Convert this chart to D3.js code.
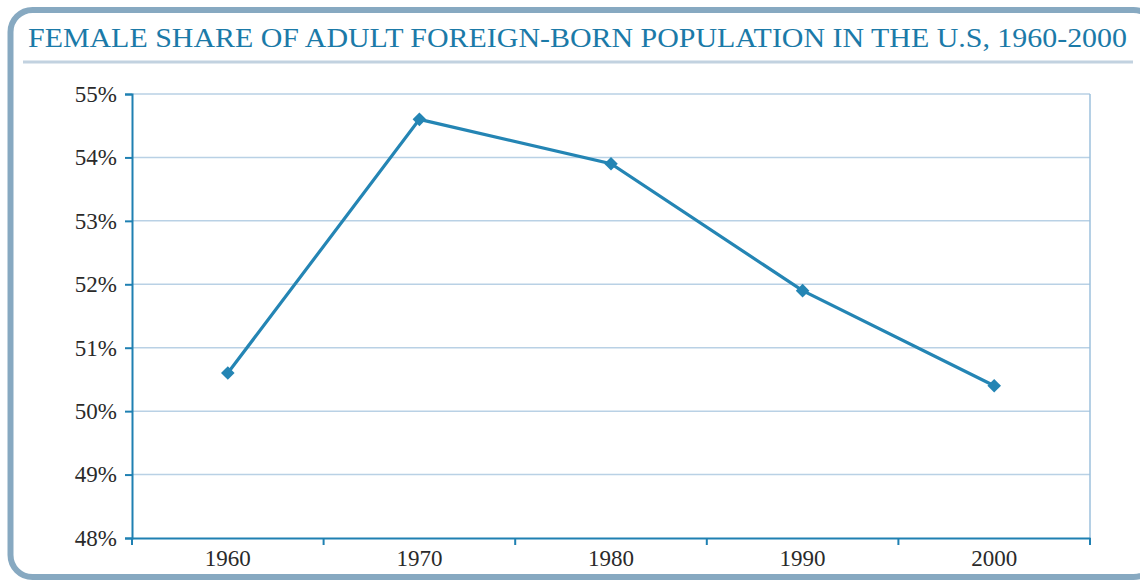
<!DOCTYPE html>
<html><head><meta charset="utf-8">
<script src="https://cdn.jsdelivr.net/npm/d3@7"></script>
<style>html,body{margin:0;padding:0;background:#fff;overflow:hidden}svg{display:block}</style>
</head><body>
<svg id="chart" width="1140" height="581"></svg>
<script>
const titleText = "FEMALE SHARE OF ADULT FOREIGN-BORN POPULATION IN THE U.S, 1960-2000";
const years = ["1960", "1970", "1980", "1990", "2000"];
const femaleShare = [0.506, 0.546, 0.539, 0.519, 0.504];
const yTicks = [0.48, 0.49, 0.50, 0.51, 0.52, 0.53, 0.54, 0.55];

(function () {
const svg = d3.select("#chart");
const serif = "Liberation Serif";

// frame
svg.append("rect").attr("x", 10.5).attr("y", 10).attr("width", 1145).attr("height", 567)
  .attr("rx", 22).attr("ry", 22).attr("fill", "none")
  .attr("stroke", "#87a9c1").attr("stroke-width", 6);

// title
svg.append("text").attr("x", 28).attr("y", 47)
  .style("font-family", serif).style("font-size", "27px").attr("fill", "#1b7aa8")
  .attr("textLength", 1099).attr("lengthAdjust", "spacingAndGlyphs")
  .text(titleText);
svg.append("line").attr("x1", 23).attr("x2", 1133).attr("y1", 62).attr("y2", 62)
  .attr("stroke", "#c2d2e0").attr("stroke-width", 3);

const mLeft = 132, mRight = 1090, mTop = 94, mBottom = 538;
const x = d3.scaleBand().domain(years).range([mLeft, mRight]).padding(0);
const y = d3.scaleLinear().domain([0.48, 0.55]).range([mBottom, mTop]);

// gridlines
svg.append("g").selectAll("line").data(yTicks.slice(1)).join("line")
  .attr("x1", mLeft).attr("x2", mRight)
  .attr("y1", d => y(d)).attr("y2", d => y(d))
  .attr("stroke", "#b9d1e5").attr("stroke-width", 1.5);
// right border
svg.append("line").attr("x1", mRight).attr("x2", mRight).attr("y1", mTop).attr("y2", mBottom)
  .attr("stroke", "#9cc1dc").attr("stroke-width", 1.5);

// y axis
const yAxis = svg.append("g").attr("transform", `translate(${mLeft},0)`)
  .call(d3.axisLeft(y).tickValues(yTicks).tickFormat(d3.format(".0%")).tickSize(7).tickPadding(8));
yAxis.attr("font-family", serif).attr("font-size", 23);
yAxis.select(".domain").attr("stroke", "#1f80b2").attr("stroke-width", 2);
yAxis.selectAll(".tick line").attr("stroke", "#1f80b2").attr("stroke-width", 2);
yAxis.selectAll(".tick text").style("font-family", serif).style("font-size", "23px")
  .attr("fill", "#2a2a2a");

// x axis
const xAxis = svg.append("g").attr("transform", `translate(0,${mBottom})`)
  .call(d3.axisBottom(x).tickSize(0).tickPadding(12));
xAxis.attr("font-family", serif).attr("font-size", 23);
xAxis.select(".domain").attr("stroke", "#1f80b2").attr("stroke-width", 2);
xAxis.selectAll(".tick text").style("font-family", serif).style("font-size", "23px")
  .attr("fill", "#2a2a2a");
const boundaries = years.map(d => x(d)).concat([x.range()[1]]);
xAxis.selectAll("line.bnd").data(boundaries).join("line").attr("class", "bnd")
  .attr("x1", d => d).attr("x2", d => d).attr("y1", 0).attr("y2", 7)
  .attr("stroke", "#1f80b2").attr("stroke-width", 2);

// line
const cx = d => x(d) + x.bandwidth() / 2;
const line = d3.line().x((d, i) => cx(years[i])).y(d => y(d));
svg.append("path").datum(femaleShare).attr("d", line)
  .attr("fill", "none").attr("stroke", "#2485b4").attr("stroke-width", 3.2);

// markers
svg.append("g").selectAll("path").data(femaleShare).join("path")
  .attr("transform", (d, i) => `translate(${cx(years[i])},${y(d)}) rotate(45)`)
  .attr("d", "M-4.8,-4.8H4.8V4.8H-4.8Z")
  .attr("fill", "#2485b4");
})();
</script>
</body></html>
